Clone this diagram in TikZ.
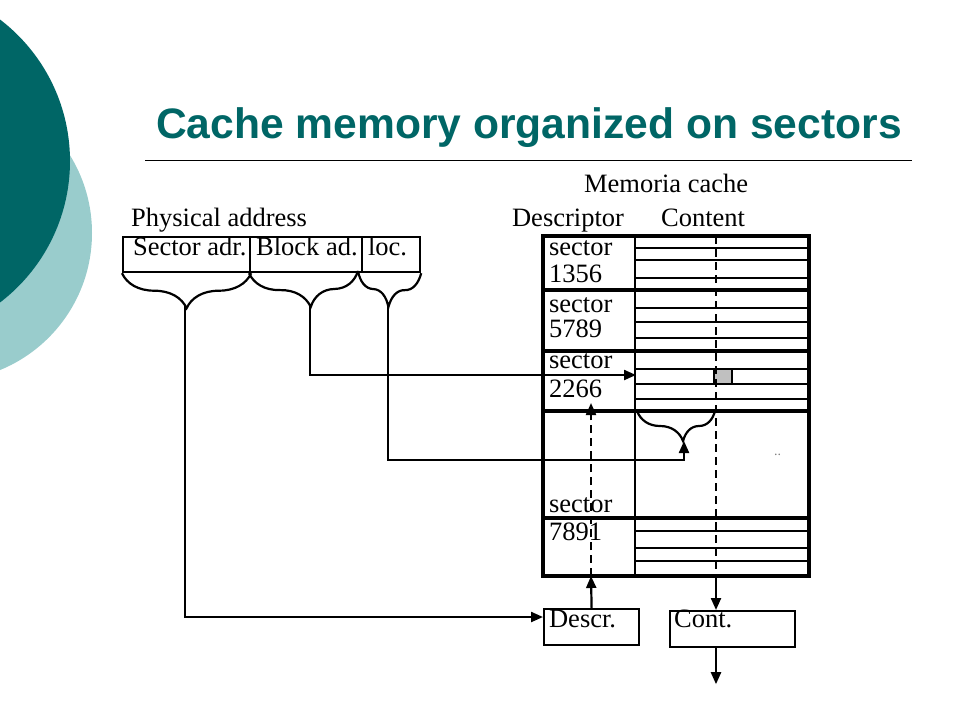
\documentclass[tikz,border=0pt]{standalone}
\usepackage{fontspec}
\setmainfont{Liberation Serif}
\newfontfamily\titlefont{Liberation Sans}
\usetikzlibrary{decorations.pathreplacing}
\usetikzlibrary{arrows.meta}
\definecolor{teal1}{RGB}{0, 102, 102}
\definecolor{teal2}{RGB}{153, 204, 204}
\definecolor{gray1}{RGB}{192, 192, 192}

\begin{document}
\begin{tikzpicture}[x=1pt, y=-1pt, line width=2.2pt,
  lbl/.style={anchor=base west, inner sep=0pt, font=\fontsize{26.5}{28}\selectfont},
  field/.style={draw, rectangle, anchor=north west, inner sep=0pt, minimum height=35pt},
  outbox/.style={draw, rectangle, anchor=north west, inner sep=0pt, minimum height=36pt},
  sectline/.style={line width=3.8pt},
  rowline/.style={line width=1.6pt},
  dashline/.style={dash pattern=on 8pt off 5pt},
  arr/.style={-{Triangle[length=12pt,width=10pt]}}]
  \useasboundingbox (0,0) rectangle (960,720);
  % background circles
  \fill[teal2] (-56,233) circle (148pt);
  \fill[teal1] (-108,161) circle (178pt);
  \node[anchor=base west, inner sep=0pt, text=teal1, font=\titlefont\bfseries\fontsize{42.6}{46}\selectfont] (title) at (155,138) {Cache memory organized on sectors};
  \draw[line width=1pt] (145,160) -- (912,160);
  % headings
  \node[lbl] (memc) at (583,192) {Memoria cache};
  \node[lbl] (descr) at (511,226) {Descriptor};
  \node[lbl] (cont) at (660,226) {Content};
  \node[lbl] (phys) at (130,226) {Physical address};
  % address fields
  \node[field, minimum width=127pt] (sadr) at (122,236) {};
  \node[field, minimum width=112pt] (badr) at (249,236) {};
  \node[field, minimum width=58pt] (loc) at (361,236) {};
  \node[lbl] (sadrt) at (132,255) {Sector adr.};
  \node[lbl] (badrt) at (255,255) {Block ad.};
  \node[lbl] (loct) at (367,255) {loc.};
  \draw [decorate,decoration={brace,amplitude=35pt}] (sadr.south east) -- (sadr.south west);
  \draw [decorate,decoration={brace,amplitude=35pt,aspect=0.44}] (358,271) -- (badr.south west);
  \draw [decorate,decoration={brace,amplitude=35pt}] (loc.south east) -- (358,271);
  \coordinate (t1) at (185,306);
  \coordinate (t2) at (310,306);
  \coordinate (t3) at (388,306);
  % cache memory
  \draw[sectline] (543,236) rectangle (809,576);
  \draw[line width=2.6pt] (635,236) -- (635,576);
  \foreach \y in {290,351,411,518}
    \draw[sectline] (543,\y) -- (809,\y);
  \foreach \y in {248,260,278,308,322,338,369,384,399,531,548,561}
    \draw[rowline] (635,\y) -- (809,\y);
  \foreach \txt/\y in {sector/255, 1356/282, sector/312, 5789/337, sector/368, 2266/397, sector/512, 7891/540}
    \node[lbl] at (548,\y) {\txt};
  \draw[fill=gray1] (714,369) rectangle (732,384);
  \node[anchor=base west, inner sep=0pt, text=gray, font=\fontsize{14}{14}\selectfont] (dots) at (773,455) {..};
  \draw [decorate,decoration={brace,amplitude=30pt,aspect=0.41}] (715,411) -- (637,411);
  \coordinate (btip) at (684,441);
  \coordinate (s3in) at (636,375);
  \coordinate (dup) at (591,403);
  \coordinate (dlow) at (591,576);
  \coordinate (clow) at (716,576);
  % output registers
  \node[outbox, minimum width=95pt] (dbox) at (543,608) {};
  \node[outbox, minimum width=125pt] (cbox) at (669,610) {};
  \node[lbl] (dboxt) at (548,627) {Descr.};
  \node[lbl] (cboxt) at (673,627) {Cont.};
  \coordinate (din) at (543,617);
  % connections
  \draw[arr] (t1) |- (din);
  \draw[arr] (t2) |- (s3in);
  \draw[arr] (t3) -- ++(0,154) -| (btip);
  \draw[arr] (dbox.north) -- (dlow);
  \draw[dashline,arr] (dlow) -- (dup);
  \draw[dashline] (716,236) -- (clow);
  \draw[arr] (clow) -- (clow |- cbox.north);
  \draw[arr] (clow |- cbox.south) -- ++(0,36);
\end{tikzpicture}
\end{document}
